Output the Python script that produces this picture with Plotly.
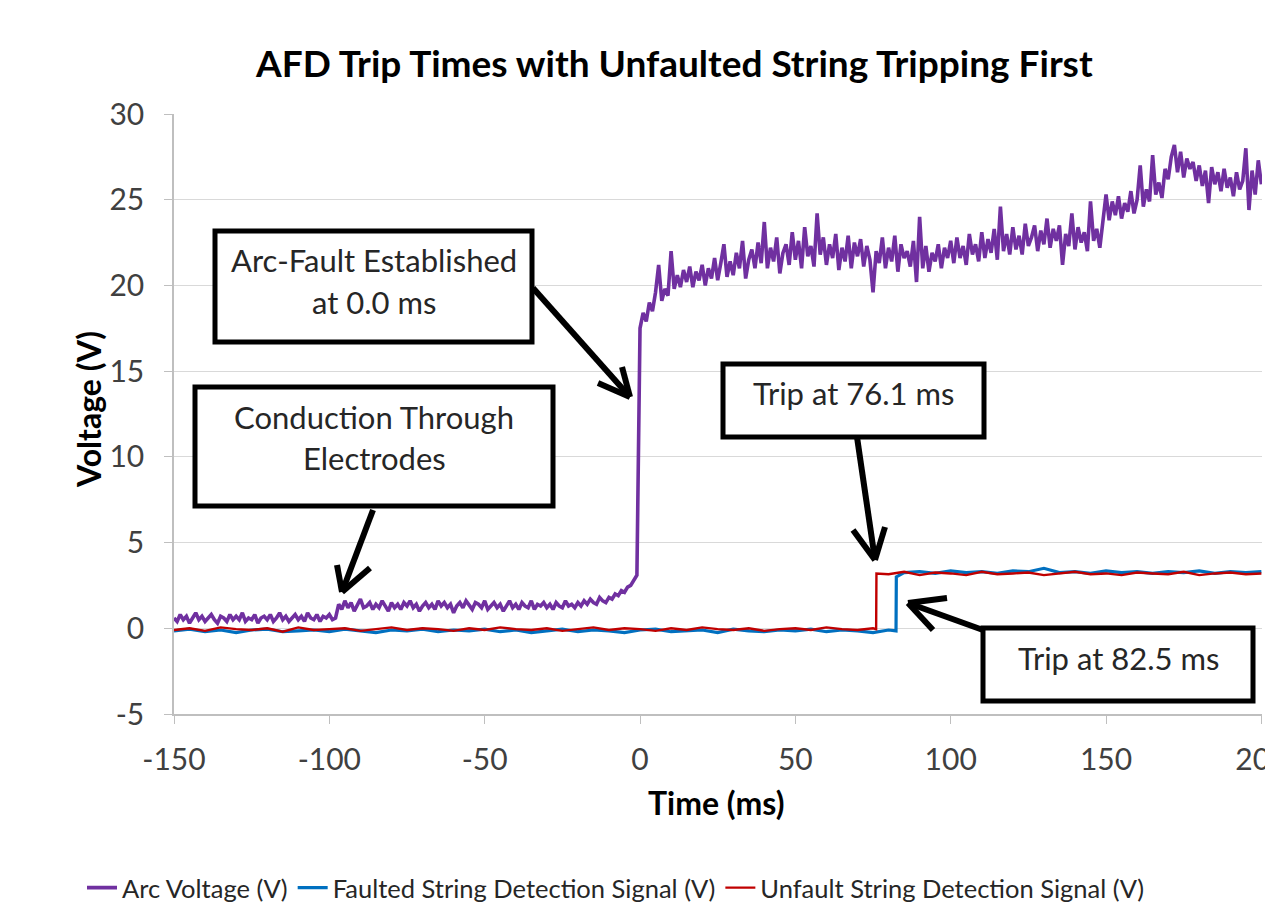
import plotly.graph_objects as go

# ---------------- data ----------------
arc_t = list(range(-150, 201))  # 1 ms samples
arc_v = [
    # -150 .. -98
    0.6, 0.4, 0.8, 0.5, 0.7, 0.3, 0.6, 0.9, 0.5, 0.7,
    0.4, 0.6, 0.8, 0.5, 0.3, 0.7, 0.6, 0.4, 0.8, 0.5,
    0.7, 0.5, 0.9, 0.4, 0.6, 0.5, 0.8, 0.3, 0.6, 0.7,
    0.5, 0.8, 0.4, 0.6, 0.9, 0.5, 0.7, 0.4, 0.6, 0.8,
    0.5, 0.7, 0.4, 0.9, 0.6, 0.5, 0.8, 0.4, 0.7, 0.6,
    0.8, 0.5, 0.6,
    # -97 .. -21
    1.4, 1.1, 1.6, 1.2, 1.5, 1.0, 1.4, 1.7, 1.2, 1.3,
    1.5, 1.1, 1.4, 1.2, 1.6, 1.3, 1.0, 1.5, 1.2, 1.4,
    1.1, 1.5, 1.3, 1.6, 1.2, 1.4, 1.0, 1.3, 1.5, 1.2,
    1.4, 1.1, 1.6, 1.3, 1.5, 1.2, 1.4, 0.9, 1.3, 1.5,
    1.2, 1.6, 1.3, 1.1, 1.5, 1.4, 1.2, 1.6, 1.1, 1.3,
    1.5, 1.2, 1.4, 1.0, 1.3, 1.6, 1.2, 1.4, 1.1, 1.5,
    1.3, 1.2, 1.6, 1.1, 1.4, 1.3, 1.5, 1.2, 1.4, 1.1,
    1.5, 1.3, 1.2, 1.6, 1.3, 1.4, 1.2,
    # -20 .. -1
    1.5, 1.3, 1.6, 1.4, 1.7, 1.5, 1.4, 1.8, 1.6, 1.5,
    1.8, 1.7, 2.0, 1.9, 2.2, 2.1, 2.4, 2.5, 2.8, 3.1,
    # 0 .. 200
    17.5, 18.4, 17.9, 19.0, 18.5, 19.6, 21.2, 19.1, 19.8, 19.4,
    22.0, 19.8, 20.6, 19.9, 20.9, 20.2, 21.1, 19.9, 20.8, 20.3,
    21.2, 20.0, 21.0, 20.4, 21.6, 20.3, 21.3, 22.4, 20.5, 21.4,
    20.6, 21.9, 21.0, 22.6, 20.4, 21.5, 22.1, 21.0, 22.5, 21.3,
    23.7, 21.0, 22.2, 21.4, 22.8, 20.7, 21.9, 22.4, 21.2, 23.1,
    21.5, 22.6, 21.0, 23.4, 21.7, 22.3, 21.1, 24.2, 21.8, 22.8,
    21.2, 22.4, 21.6, 23.0, 20.9, 22.2, 21.4, 22.9, 21.0, 22.5,
    21.7, 22.7, 21.1, 22.3, 21.5, 19.6, 22.0, 21.3, 22.8, 21.0,
    22.2, 21.4, 22.9, 20.8, 22.4, 21.6, 22.0, 21.1, 22.6, 20.2,
    24.0, 21.0, 22.3, 20.8, 21.9, 21.4, 22.4, 21.0, 22.2, 21.6,
    22.6, 21.3, 22.8, 21.6, 22.3, 21.2, 23.0, 21.8, 22.4, 21.4,
    23.1, 21.6, 22.7, 21.9, 23.3, 21.5, 24.6, 22.0, 23.0, 21.8,
    23.4, 22.1, 22.9, 21.8, 23.6, 22.3, 22.8, 23.5, 22.0, 23.2,
    22.4, 23.9, 22.2, 23.3, 22.6, 23.5, 21.2, 23.0, 22.3, 24.2,
    22.1, 23.4, 22.5, 23.1, 22.0, 24.9, 22.6, 23.3, 22.2, 23.6,
    25.3, 23.8, 24.9, 24.1, 25.2, 23.9, 24.8, 24.3, 25.5, 24.2,
    25.0, 27.0, 24.6, 25.6, 24.9, 27.6, 25.3, 26.0, 25.1, 26.8,
    26.2, 27.5, 28.2, 26.6, 27.8, 26.3, 27.4, 26.8, 27.2, 26.1,
    27.0, 25.8, 26.7, 24.8, 26.9, 25.9, 26.6, 25.5, 26.8, 25.7,
    26.3, 25.2, 26.6, 25.6, 26.1, 28.0, 24.4, 26.7, 25.3, 27.3,
    25.9,
]

unf_t = list(range(-150, 76, 5)) + [76.0, 76.1] + list(range(80, 201, 5))
unf_v = [
    -0.1, 0.0, -0.15, 0.05, -0.05, -0.1, 0.0, -0.2, 0.05, -0.1,
    -0.05, 0.0, -0.15, -0.05, 0.05, -0.1, 0.0, -0.05, -0.15, 0.0,
    -0.1, 0.05, -0.05, -0.1, 0.0, -0.15, -0.05, 0.05, -0.1, 0.0,
    -0.05, -0.15, 0.0, -0.1, 0.05, -0.05, -0.1, 0.0, -0.15, -0.05,
    0.0, -0.1, 0.05, -0.05, -0.1, 0.0,
    -0.05, 3.2,
    3.15, 3.3, 3.1, 3.25, 3.2, 3.1, 3.3, 3.15, 3.2, 3.25,
    3.1, 3.2, 3.3, 3.15, 3.2, 3.1, 3.25, 3.2, 3.15, 3.3,
    3.1, 3.2, 3.25, 3.15, 3.2,
]

flt_t = list(range(-150, 81, 5)) + [82.4, 82.5] + list(range(85, 201, 5))
flt_v = [
    -0.15, -0.05, -0.2, -0.1, -0.25, -0.1, -0.05, -0.2, -0.15, -0.1,
    -0.2, -0.05, -0.15, -0.25, -0.1, -0.15, -0.05, -0.2, -0.1, -0.15,
    -0.05, -0.2, -0.1, -0.25, -0.15, -0.05, -0.2, -0.1, -0.15, -0.25,
    -0.1, -0.05, -0.2, -0.15, -0.1, -0.25, -0.05, -0.15, -0.2, -0.1,
    -0.15, -0.05, -0.2, -0.1, -0.15, -0.25, -0.1,
    -0.15, 3.0,
    3.25, 3.3, 3.2, 3.35, 3.25, 3.3, 3.2, 3.35, 3.3, 3.5,
    3.25, 3.3, 3.2, 3.35, 3.25, 3.3, 3.2, 3.3, 3.25, 3.35,
    3.2, 3.3, 3.25, 3.3,
]

assert len(arc_t) == len(arc_v)
assert len(unf_t) == len(unf_v)
assert len(flt_t) == len(flt_v)

series_names = ["Arc Voltage (V)", "Faulted String Detection Signal (V)",
                "Unfault String Detection Signal (V)"]
x_ticks = [-150, -100, -50, 0, 50, 100, 150, 200]
x_tick_labels = ["-150", "-100", "-50", "0", "50", "100", "150", "200"]
y_ticks = [-5, 0, 5, 10, 15, 20, 25, 30]
y_tick_labels = ["-5", "0", "5", "10", "15", "20", "25", "30"]

# ---------------- layout geometry ----------------
W, H = 1265, 922
L, R, T, B = 174, 1262, 114, 714  # plot area in pixels
FONT = "Lato"


def px(xp):
    return (xp - L) / (R - L)


def py(yp):
    return 1 - (yp - T) / (B - T)


fig = go.Figure()
fig.add_trace(go.Scatter(x=arc_t, y=arc_v, mode="lines", name=series_names[0],
                         line=dict(color="#7030A0", width=3.6)))
fig.add_trace(go.Scatter(x=flt_t, y=flt_v, mode="lines", name=series_names[1],
                         line=dict(color="#0070C0", width=3.2)))
fig.add_trace(go.Scatter(x=unf_t, y=unf_v, mode="lines", name=series_names[2],
                         line=dict(color="#C00000", width=2.4)))

shapes = []
annotations = []

# boxes: (left, top, right, bottom) line-centre pixels, text lines with centre y
boxes = [
    ((215, 231, 532, 342), [("Arc-Fault Established", 260), ("at 0.0 ms", 302)]),
    ((195, 387, 553, 506), [("Conduction Through", 417), ("Electrodes", 458)]),
    ((723, 364, 984, 437), [("Trip at 76.1 ms", 393)]),
    ((983, 628, 1253, 701), [("Trip at 82.5 ms", 658)]),
]
for (x0, y0, x1, y1), lines in boxes:
    shapes.append(dict(type="rect", xref="paper", yref="paper",
                       x0=px(x0), x1=px(x1), y0=py(y1), y1=py(y0),
                       line=dict(color="black", width=5), fillcolor="white",
                       layer="above"))
    for txt, ty in lines:
        annotations.append(dict(text=txt, xref="paper", yref="paper",
                                x=px((x0 + x1) / 2), y=py(ty), xanchor="center",
                                yanchor="middle", showarrow=False,
                                font=dict(family=FONT, size=31, color="#262626")))

# arrows: tail, tip, arm1, arm2 (pixels)
arrows = [
    ((533, 288), (630, 397), (622, 367), (598, 383)),
    ((373, 510), (342, 592), (337, 565), (370, 568)),
    ((857, 437), (875, 560), (853, 530), (885, 527)),
    ((983, 630), (908, 603), (947, 598), (933, 630)),
]
for tail, tip, a1, a2 in arrows:
    for p0 in (tail, a1, a2):
        shapes.append(dict(type="line", xref="paper", yref="paper",
                           x0=px(p0[0]), y0=py(p0[1]), x1=px(tip[0]), y1=py(tip[1]),
                           line=dict(color="black", width=6), layer="above"))

# title and axis titles
annotations.append(dict(text="<b>AFD Trip Times with Unfaulted String Tripping First</b>",
                        xref="paper", yref="paper", x=px(674), y=py(62),
                        xanchor="center", yanchor="middle", showarrow=False,
                        font=dict(family=FONT, size=37, color="black")))
annotations.append(dict(text="<b>Time (ms)</b>", xref="paper", yref="paper",
                        x=px(716), y=py(802), xanchor="center", yanchor="middle",
                        showarrow=False, font=dict(family=FONT, size=32, color="black")))
annotations.append(dict(text="<b>Voltage (V)</b>", xref="paper", yref="paper",
                        x=px(88), y=py(410), xanchor="center", yanchor="middle",
                        textangle=-90, showarrow=False,
                        font=dict(family=FONT, size=32, color="black")))

fig.update_layout(
    width=W, height=H,
    margin=dict(l=L, r=W - R, t=T, b=H - B, pad=0),
    paper_bgcolor="white", plot_bgcolor="white",
    font=dict(family=FONT, color="#404040"),
    showlegend=True,
    legend=dict(orientation="h", xref="container", yref="container",
                x=82 / W, y=1 - 888 / H, xanchor="left", yanchor="middle",
                font=dict(family=FONT, size=25.5, color="#262626"),
                itemwidth=30, tracegroupgap=0, bgcolor="rgba(0,0,0,0)"),
    shapes=shapes,
    annotations=annotations,
)
fig.update_xaxes(range=[-150, 200.2], tickvals=x_ticks, ticktext=x_tick_labels,
                 ticks="outside", ticklen=8, ticklabeloverflow="allow",
                 tickcolor="#BFBFBF", showline=True, linecolor="#BFBFBF", linewidth=1.5,
                 showgrid=False, zeroline=False, tickfont=dict(family=FONT, size=30, color="#404040"),
                 ticklabelstandoff=10, automargin=False)
fig.update_yaxes(range=[-5, 30], tickvals=y_ticks, ticktext=y_tick_labels,
                 ticks="outside", ticklen=8,
                 tickcolor="#BFBFBF", showline=True, linecolor="#BFBFBF", linewidth=1.5,
                 showgrid=True, gridcolor="#D9D9D9", gridwidth=1.2, zeroline=False,
                 tickfont=dict(family=FONT, size=30, color="#404040"),
                 ticklabelstandoff=14, automargin=False)

fig.write_html("out.html", config={"displayModeBar": False},
               post_script="document.body.style.margin='0';document.body.style.overflow='hidden';")
